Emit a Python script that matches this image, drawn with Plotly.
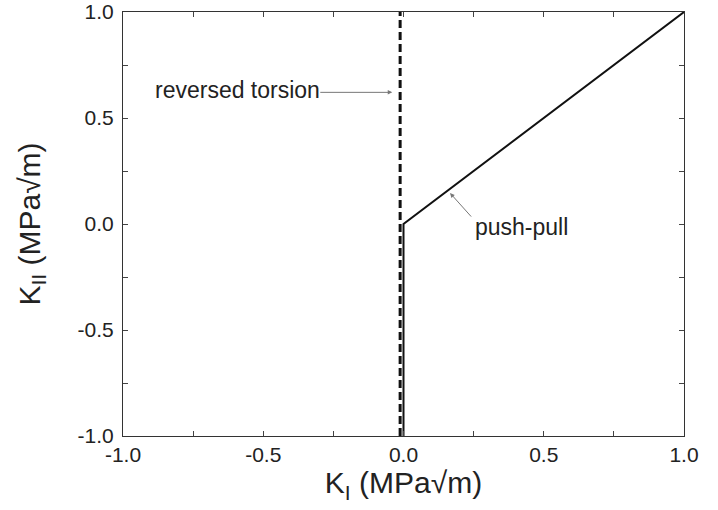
import plotly.graph_objects as go

# Loading paths in the K_I - K_II plane
torsion_k1 = [-0.012, -0.012]
torsion_k2 = [-1.0, 1.0]
pushpull_k1 = [0.0, 0.0, 1.0]
pushpull_k2 = [-1.0, 0.0, 1.0]

# Axis ticks
tick_vals = [-1.0, -0.5, 0.0, 0.5, 1.0]
tick_text = ["-1.0", "-0.5", "0.0", "0.5", "1.0"]

# Label placement (data coordinates)
torsion_label = dict(x=-0.893, y=0.634, text="reversed torsion")
torsion_arrow = dict(tail=(-0.302, 0.621), tip=(-0.040, 0.621))
pushpull_label = dict(x=0.246, y=-0.014, text="push-pull")
pushpull_arrow = dict(tail=(0.246, 0.028), tip=(0.166, 0.146))

FONT = "Liberation Sans, Arial, Helvetica, sans-serif"

fig = go.Figure()
fig.add_trace(go.Scatter(
    x=torsion_k1, y=torsion_k2, mode="lines",
    line=dict(color="#111", width=3, dash="8px,4px"),
    showlegend=False, hoverinfo="skip"))
fig.add_trace(go.Scatter(
    x=pushpull_k1, y=pushpull_k2, mode="lines",
    line=dict(color="#111", width=2),
    showlegend=False, hoverinfo="skip"))

for lab in (torsion_label, pushpull_label):
    fig.add_annotation(x=lab["x"], y=lab["y"], xref="x", yref="y",
                       text=lab["text"], showarrow=False,
                       xanchor="left", yanchor="middle",
                       font=dict(family=FONT, size=23, color="#222"))

for arr in (torsion_arrow, pushpull_arrow):
    fig.add_annotation(x=arr["tip"][0], y=arr["tip"][1],
                       ax=arr["tail"][0], ay=arr["tail"][1],
                       xref="x", yref="y", axref="x", ayref="y",
                       text="", showarrow=True, arrowhead=2,
                       arrowsize=0.9, arrowwidth=1, arrowcolor="#777")

axis_common = dict(
    range=[-1.0, 1.0], tickvals=tick_vals, ticktext=tick_text,
    ticks="inside", ticklen=5, tickwidth=1, tickcolor="#444",
    minor=dict(dtick=0.25, ticks="inside", ticklen=5, tickcolor="#444"),
    showline=True, linecolor="#333", linewidth=1, mirror="ticks",
    showgrid=False, zeroline=False, ticklabeloverflow="allow",
    tickfont=dict(family=FONT, size=21, color="#222"),
)

fig.update_xaxes(**axis_common, automargin="bottom",
                 title=dict(text="K<sub>I</sub> (MPa\u221am)",
                            font=dict(family=FONT, size=30, color="#222"),
                            standoff=2))
fig.update_yaxes(**axis_common, automargin="left", ticklabelstandoff=4,
                 title=dict(text="K<sub>II</sub> (MPa\u221am)",
                            font=dict(family=FONT, size=30, color="#222"),
                            standoff=28))

fig.update_layout(
    width=718, height=510,
    margin=dict(l=123, r=34, t=12, b=74),
    paper_bgcolor="white", plot_bgcolor="white",
)

fig.write_html("out.html")
